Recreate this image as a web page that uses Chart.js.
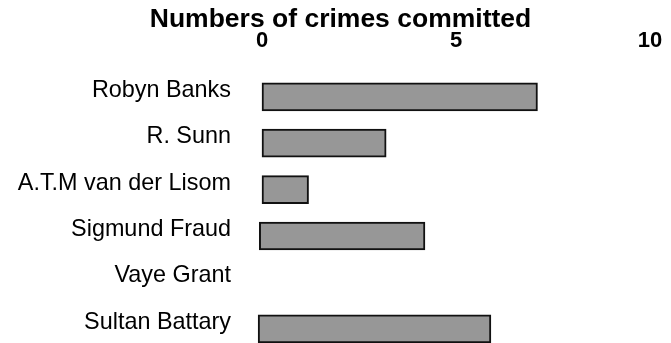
<!DOCTYPE html>
<html>
<head>
<meta charset="utf-8">
<script src="https://cdn.jsdelivr.net/npm/chart.js@4/dist/chart.umd.min.js"></script>
<style>
  html, body { margin: 0; padding: 0; background: #fff; width: 671px; height: 343px; overflow: hidden; }
  #wrap { width: 671px; height: 352px; }
</style>
</head>
<body>
<div id="wrap"><canvas id="chart" width="671" height="352"></canvas></div>
<script>
// Suspects and how many crimes each one committed
const suspects = ['Robyn Banks', 'R. Sunn', 'A.T.M van der Lisom', 'Sigmund Fraud', 'Vaye Grant', 'Sultan Battary'];
const crimes = [7.1, 3.2, 1.2, 4.2, 0, 5.9];
const barStarts = [0, 0, 0, -0.07, 0, -0.1];
const xTicks = [0, 5, 10];
const chartTitle = 'Numbers of crimes committed';

const FONT = "'Liberation Sans', Arial, Helvetica, sans-serif";

// keep the plot box exactly where the layout puts it
const setScalePadding = (s, right) => {
  s.paddingTop = 0; s.paddingBottom = 0;
  s.paddingLeft = 0; s.paddingRight = right;
};

new Chart(document.getElementById('chart'), {
  type: 'bar',
  data: {
    labels: suspects,
    datasets: [{
      data: crimes.map((v, i) => [barStarts[i], v]),
      backgroundColor: '#979797',
      borderColor: '#111',
      borderWidth: 2,
      borderSkipped: false,
      barThickness: 28,
      clip: false
    }]
  },
  options: {
    indexAxis: 'y',
    responsive: false,
    maintainAspectRatio: false,
    animation: false,
    layout: { padding: { left: 10, right: 0, top: 0, bottom: 0 } },
    plugins: {
      legend: { display: false },
      tooltip: { enabled: false },
      title: {
        display: true,
        text: chartTitle,
        color: '#000',
        font: { family: FONT, size: 26.5, weight: 'bold', lineHeight: 0.8 },
        padding: { top: 9.5, bottom: 0 }
      }
    },
    scales: {
      x: {
        position: 'top',
        min: xTicks[0],
        max: xTicks[xTicks.length - 1],
        afterBuildTicks: s => { s.ticks = xTicks.map(v => ({ value: v })); },
        afterFit: s => { setScalePadding(s, 21); s.height = 42.9; },
        border: { display: false },
        grid: { display: false, drawTicks: true, tickLength: 19 },
        ticks: {
          color: '#000',
          padding: 0,
          font: { family: FONT, size: 22, weight: 'bold', lineHeight: 1.2 }
        }
      },
      y: {
        afterFit: s => { setScalePadding(s, 0); s.width = 252; },
        border: { display: false },
        grid: { display: false, drawTicks: true, tickLength: 31 },
        ticks: {
          color: '#000',
          padding: 0,
          labelOffset: -6.5,
          font: { family: FONT, size: 23.4, lineHeight: 1.2 }
        }
      }
    }
  }
});
</script>
</body>
</html>
